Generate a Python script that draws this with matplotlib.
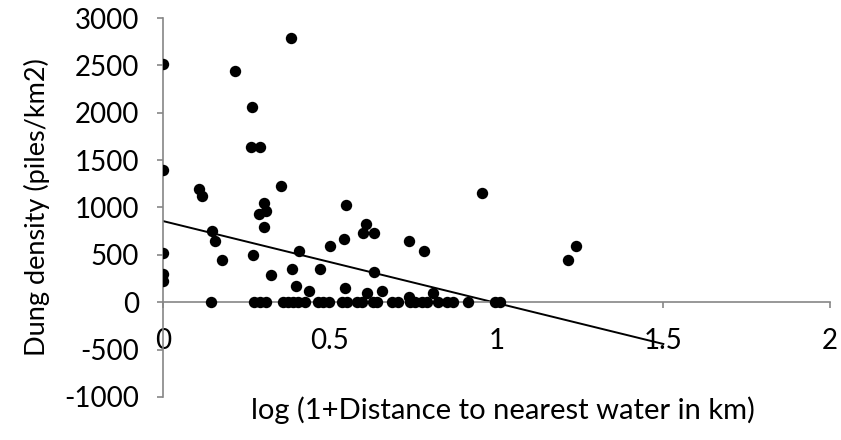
import numpy as np
import matplotlib.pyplot as plt

# Data
dist_log = [0.0, 0.0, 0.0, 0.0, 0.0,
            0.106, 0.116, 0.146, 0.156, 0.176,
            0.216, 0.267, 0.263, 0.290, 0.268,
            0.286, 0.301, 0.308, 0.301, 0.323,
            0.354, 0.384, 0.386, 0.398, 0.408,
            0.438, 0.471, 0.499, 0.541, 0.548,
            0.544, 0.608, 0.599, 0.633, 0.633,
            0.611, 0.656, 0.736, 0.736, 0.781,
            0.809, 0.956, 1.215, 1.237]
dung = [2520, 1395, 521, 296, 225,
        1191, 1120, 754, 645, 444,
        2442, 2065, 1642, 1642, 497,
        927, 1050, 965, 796, 292,
        1226, 2794, 345, 169, 539,
        120, 345, 592, 666, 1025,
        145, 821, 726, 726, 320,
        92, 120, 645, 56, 539,
        92, 1156, 440, 592]

# points sitting on the zero line
zero_x = [0.144, 0.272, 0.29, 0.309, 0.36, 0.375, 0.39, 0.405, 0.426, 0.465,
          0.48, 0.497, 0.535, 0.55, 0.58, 0.595, 0.63, 0.64, 0.685, 0.705,
          0.74, 0.755, 0.775, 0.79, 0.825, 0.85, 0.87, 0.915, 0.995, 1.01]
zero_y = [0] * len(zero_x)

# linear trend line (Excel style, forecast to 1.5)
trend_intercept = 856
trend_slope = -865
trend_x = [0, 1.5]

xticks = [0, 0.5, 1, 1.5, 2]
xticklabels = ['0', '0.5', '1', '1.5', '2']
yticks = [-1000, -500, 0, 500, 1000, 1500, 2000, 2500, 3000]

plt.rcParams['font.family'] = ['Lato', 'DejaVu Sans']
plt.rcParams['axes.unicode_minus'] = False

fig = plt.figure(figsize=(8.41, 4.4), dpi=100)
ax = fig.add_axes([0.194, 0.098, 0.793, 0.861])

ax.plot(dist_log + zero_x, dung + zero_y, 'o', color='black',
        markersize=8.2, markeredgewidth=0, zorder=3)
tx = np.array(trend_x)
ax.plot(tx, trend_intercept + trend_slope * tx, color='black', lw=1.4, zorder=2)

ax.set_xlim(0, 2)
ax.set_ylim(-1000, 3000)
ax.set_xticks(xticks)
ax.set_xticklabels(xticklabels)
ax.set_yticks(yticks)

grey = '#868686'
ax.spines['top'].set_visible(False)
ax.spines['right'].set_visible(False)
ax.spines['bottom'].set_position(('data', 0))
for s in ['left', 'bottom']:
    ax.spines[s].set_color(grey)
    ax.spines[s].set_linewidth(1.2)

ax.tick_params(axis='both', direction='out', color=grey, width=1.2,
               length=4.5, labelsize=20, labelcolor='black')
ax.tick_params(axis='x', pad=14)
ax.tick_params(axis='y', pad=13)

ax.set_ylabel('Dung density (piles/km2)', fontsize=19.5, labelpad=10)
# x title sits at the bottom of the chart, not on the moved axis line
fig.text(503 / 841, 1 - 410 / 440, 'log (1+Distance to nearest water in km)',
         ha='center', va='center', fontsize=21)

plt.savefig('out.png', dpi=100)
